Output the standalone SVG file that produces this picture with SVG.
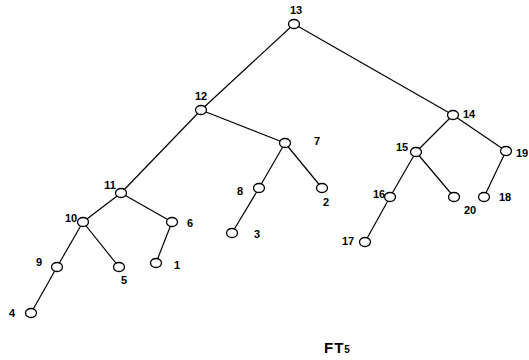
<svg xmlns="http://www.w3.org/2000/svg" width="529" height="360" viewBox="0 0 529 360">
  <style>
    .edge { stroke: #000; stroke-width: 1.2; fill: none; }
    .node ellipse { fill: #fff; stroke: #000; stroke-width: 1.3; }
    text { font-family: "Liberation Sans", Arial, sans-serif; font-weight: bold; font-size: 11px; fill: #000; }
    .title { font-size: 15px; font-weight: bold; letter-spacing: 1px; }
  </style>
  <rect width="529" height="360" fill="#fff"/>

  <g id="connectors">
    <line class="edge" x1="294" y1="24" x2="201" y2="110"/>
    <line class="edge" x1="294" y1="24" x2="453" y2="115"/>
    <line class="edge" x1="201" y1="110" x2="121" y2="193"/>
    <line class="edge" x1="201" y1="110" x2="285" y2="143"/>
    <line class="edge" x1="121" y1="193" x2="83" y2="222"/>
    <line class="edge" x1="121" y1="193" x2="172" y2="222"/>
    <line class="edge" x1="83" y1="222" x2="57" y2="267"/>
    <line class="edge" x1="83" y1="222" x2="119" y2="267"/>
    <line class="edge" x1="57" y1="267" x2="31" y2="313"/>
    <line class="edge" x1="172" y1="222" x2="156" y2="263"/>
    <line class="edge" x1="285" y1="143" x2="259" y2="188"/>
    <line class="edge" x1="285" y1="143" x2="322" y2="188"/>
    <line class="edge" x1="259" y1="188" x2="232" y2="233"/>
    <line class="edge" x1="453" y1="115" x2="416" y2="152"/>
    <line class="edge" x1="453" y1="115" x2="506" y2="151"/>
    <line class="edge" x1="416" y1="152" x2="390" y2="197"/>
    <line class="edge" x1="416" y1="152" x2="454" y2="197"/>
    <line class="edge" x1="390" y1="197" x2="365" y2="242"/>
    <line class="edge" x1="506" y1="151" x2="484" y2="197"/>
  </g>

  <g id="n13" class="node"><ellipse cx="294" cy="24" rx="5.5" ry="4.5"/><text x="296" y="14" text-anchor="middle">13</text></g>
  <g id="n12" class="node"><ellipse cx="201" cy="110" rx="5.5" ry="4.5"/><text x="201" y="100" text-anchor="middle">12</text></g>
  <g id="n14" class="node"><ellipse cx="453" cy="115" rx="5.5" ry="4.5"/><text x="463" y="118">14</text></g>
  <g id="n7" class="node"><ellipse cx="285" cy="143" rx="5.5" ry="4.5"/><text x="317" y="145" text-anchor="middle">7</text></g>
  <g id="n15" class="node"><ellipse cx="416" cy="152" rx="5.5" ry="4.5"/><text x="402" y="151" text-anchor="middle">15</text></g>
  <g id="n19" class="node"><ellipse cx="506" cy="151" rx="5.5" ry="4.5"/><text x="516" y="157">19</text></g>
  <g id="n11" class="node"><ellipse cx="121" cy="193" rx="5.5" ry="4.5"/><text x="110" y="189" text-anchor="middle">11</text></g>
  <g id="n8" class="node"><ellipse cx="259" cy="188" rx="5.5" ry="4.5"/><text x="240" y="195" text-anchor="middle">8</text></g>
  <g id="n2" class="node"><ellipse cx="322" cy="188" rx="5.5" ry="4.5"/><text x="326" y="206" text-anchor="middle">2</text></g>
  <g id="n16" class="node"><ellipse cx="390" cy="197" rx="5.5" ry="4.5"/><text x="379" y="198" text-anchor="middle">16</text></g>
  <g id="n20" class="node"><ellipse cx="454" cy="197" rx="5.5" ry="4.5"/><text x="470" y="214" text-anchor="middle">20</text></g>
  <g id="n18" class="node"><ellipse cx="484" cy="197" rx="5.5" ry="4.5"/><text x="505" y="201" text-anchor="middle">18</text></g>
  <g id="n10" class="node"><ellipse cx="83" cy="222" rx="5.5" ry="4.5"/><text x="71" y="222" text-anchor="middle">10</text></g>
  <g id="n6" class="node"><ellipse cx="172" cy="222" rx="5.5" ry="4.5"/><text x="190" y="227" text-anchor="middle">6</text></g>
  <g id="n3" class="node"><ellipse cx="232" cy="233" rx="5.5" ry="4.5"/><text x="257" y="238" text-anchor="middle">3</text></g>
  <g id="n17" class="node"><ellipse cx="365" cy="242" rx="5.5" ry="4.5"/><text x="348" y="245" text-anchor="middle">17</text></g>
  <g id="n9" class="node"><ellipse cx="57" cy="267" rx="5.5" ry="4.5"/><text x="39" y="266" text-anchor="middle">9</text></g>
  <g id="n5" class="node"><ellipse cx="119" cy="267" rx="5.5" ry="4.5"/><text x="124" y="284" text-anchor="middle">5</text></g>
  <g id="n1" class="node"><ellipse cx="156" cy="263" rx="5.5" ry="4.5"/><text x="177" y="269" text-anchor="middle">1</text></g>
  <g id="n4" class="node"><ellipse cx="31" cy="313" rx="5.5" ry="4.5"/><text x="12" y="317" text-anchor="middle">4</text></g>

  <text class="title" x="324" y="353">FT<tspan font-size="10" letter-spacing="0">5</tspan></text>
</svg>
